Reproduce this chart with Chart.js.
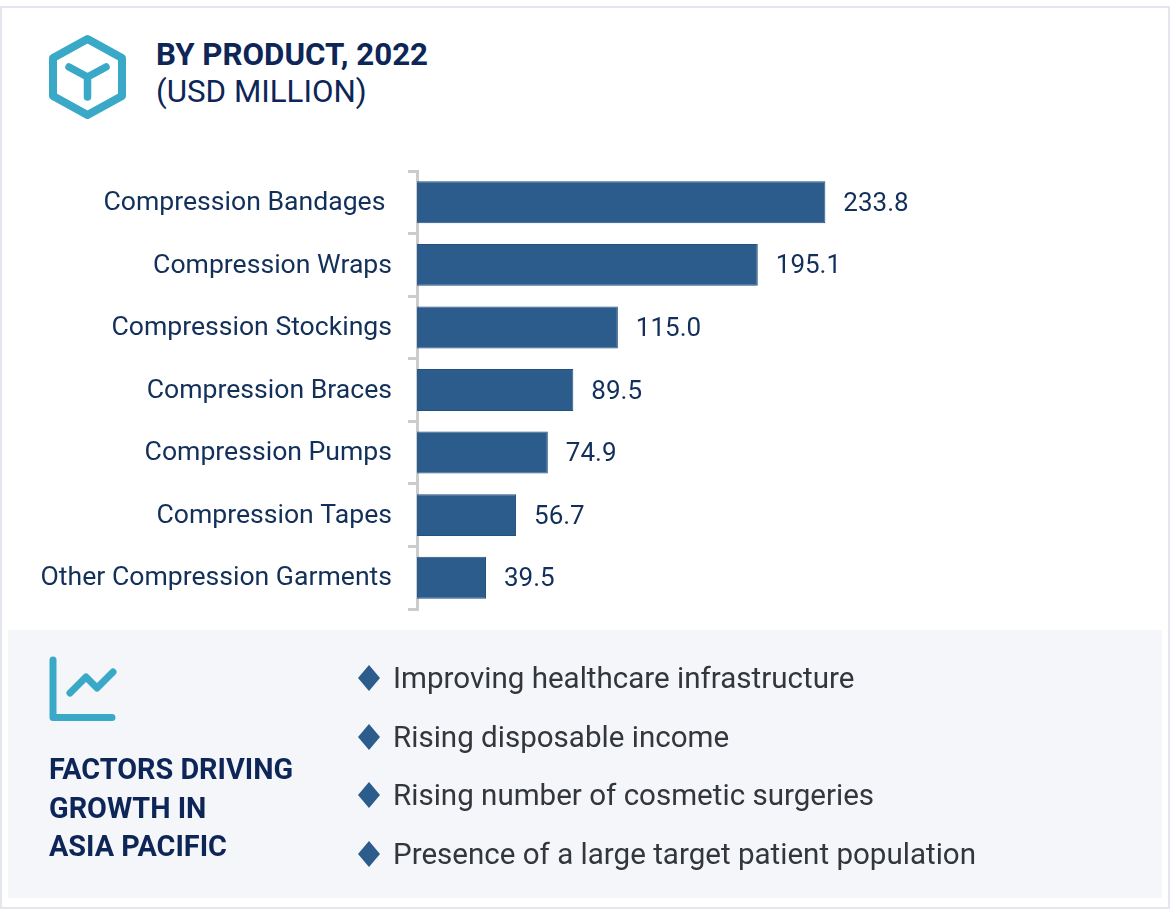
<!DOCTYPE html>
<html lang="en">
<head>
    <meta charset="UTF-8">
    <title>By Product, 2022</title>
    <script src="https://cdn.jsdelivr.net/npm/chart.js"></script>
    <style>
        html, body { margin: 0; padding: 0; background: #fff; }
        body { width: 1170px; height: 909px; position: relative; overflow: hidden; font-family: Roboto, sans-serif; }
        #frame { position: absolute; left: 0; top: 6px; width: 1166px; height: 899px; border: 2px solid #e4e5ee; }
        #chartBox { position: absolute; left: 0; top: 0; width: 1170px; height: 909px; }
        .title { position: absolute; left: 156px; color: #0d2657; font-size: 31.3px; line-height: 36px; white-space: nowrap; }
        #panel { position: absolute; left: 8px; top: 630px; width: 1154px; height: 268px; background: #f4f6fa; }
        #factorsHead { position: absolute; left: 49px; top: 750px; color: #0d2657; font-size: 28.8px; font-weight: 700; line-height: 38.5px; }
        .factor { position: absolute; left: 393px; color: #33363b; font-size: 29.55px; line-height: 36px; white-space: nowrap; }
        svg { position: absolute; }
    </style>
</head>
<body>
    <div id="frame"></div>
    <div id="panel"></div>

    <!-- icono del cubo -->
    <svg style="left:48px;top:34px" width="80" height="86" viewBox="0 0 80 86">
        <path d="M39.500 5 L74 24 L74 62 L39.500 81 L5 62 L5 24 Z" fill="none" stroke="#3aa9c8" stroke-width="8" stroke-linejoin="round"/>
        <path d="M21 33 L39.500 43 L58 33 M39.500 43 L39.500 63" fill="none" stroke="#3aa9c8" stroke-width="7.500" stroke-linecap="round" stroke-linejoin="round"/>
    </svg>
    <div class="title" style="top:37px;font-weight:700">BY PRODUCT, 2022</div>
    <div class="title" style="top:74px">(USD MILLION)</div>

    <div id="chartBox"><canvas id="productChart" width="1170" height="909"></canvas></div>

    <!-- icono de la linea -->
    <svg style="left:48px;top:655px" width="70" height="68" viewBox="0 0 70 68">
        <path d="M5 5 L5 62.500 L64 62.500" fill="none" stroke="#3aa9c8" stroke-width="7" stroke-linecap="round" stroke-linejoin="round"/>
        <path d="M22 38 L38 22 L49 33 L65 17" fill="none" stroke="#3aa9c8" stroke-width="7" stroke-linecap="round" stroke-linejoin="round"/>
    </svg>
    <div id="factorsHead">FACTORS DRIVING<br>GROWTH IN<br>ASIA PACIFIC</div>
    <div id="factors"></div>

    <script>
        const categories = ['Compression Bandages ', 'Compression Wraps', 'Compression Stockings', 'Compression Braces', 'Compression Pumps', 'Compression Tapes', 'Other Compression Garments'];
        const values = [233.8, 195.1, 115.0, 89.5, 74.9, 56.7, 39.5];
        const factorTexts = ['Improving healthcare infrastructure', 'Rising disposable income', 'Rising number of cosmetic surgeries', 'Presence of a large target patient population'];
        const factorTops = [678, 737, 795, 854];

        // Lista de factores con su rombo
        const factorsDiv = document.getElementById('factors');
        factorTexts.forEach((text, i) => {
            const row = document.createElement('div');
            row.className = 'factor';
            row.style.top = (factorTops[i] - 18) + 'px';
            row.textContent = text;
            factorsDiv.appendChild(row);
            const svgNS = 'http://www.w3.org/2000/svg';
            const mark = document.createElementNS(svgNS, 'svg');
            mark.setAttribute('width', '22');
            mark.setAttribute('height', '26');
            mark.style.left = '358px';
            mark.style.top = (factorTops[i] - 13) + 'px';
            const poly = document.createElementNS(svgNS, 'polygon');
            poly.setAttribute('points', '11,0 22,13 11,26 0,13');
            poly.setAttribute('fill', '#2b5c8c');
            mark.appendChild(poly);
            factorsDiv.appendChild(mark);
        });

        // Etiquetas de valor al final de cada barra
        const valueLabels = {
            id: 'valueLabels',
            afterDatasetsDraw(chart) {
                const ctx = chart.ctx;
                ctx.save();
                ctx.font = '26px Roboto';
                ctx.fillStyle = '#12305a';
                ctx.textAlign = 'left';
                ctx.textBaseline = 'middle';
                chart.getDatasetMeta(0).data.forEach((bar, i) => {
                    ctx.fillText(values[i].toFixed(1), bar.x + 18, bar.y + 2);
                });
                ctx.restore();
            }
        };

        new Chart(document.getElementById('productChart').getContext('2d'), {
            type: 'bar',
            data: {
                labels: categories,
                datasets: [{
                    data: values,
                    backgroundColor: '#2b5c8c',
                    borderColor: '#24507c',
                    borderWidth: 1,
                    categoryPercentage: 0.67,
                    barPercentage: 1
                }]
            },
            options: {
                indexAxis: 'y',
                responsive: false,
                animation: false,
                layout: { padding: { top: 171, bottom: 300, left: 0, right: 229 } },
                plugins: { legend: { display: false }, tooltip: { enabled: false } },
                scales: {
                    x: { display: false, min: 0, max: 300 },
                    y: {
                        afterFit(scale) { scale.width = 417; },
                        border: { display: true, color: '#cccccc', width: 3 },
                        grid: { drawOnChartArea: false, color: '#cccccc', lineWidth: 3, tickLength: 9, offset: true },
                        ticks: { color: '#12305a', font: { family: 'Roboto', size: 26.6 }, padding: 16, autoSkip: false, labelOffset: 1 }
                    }
                }
            },
            plugins: [valueLabels]
        });
    </script>
</body>
</html>
